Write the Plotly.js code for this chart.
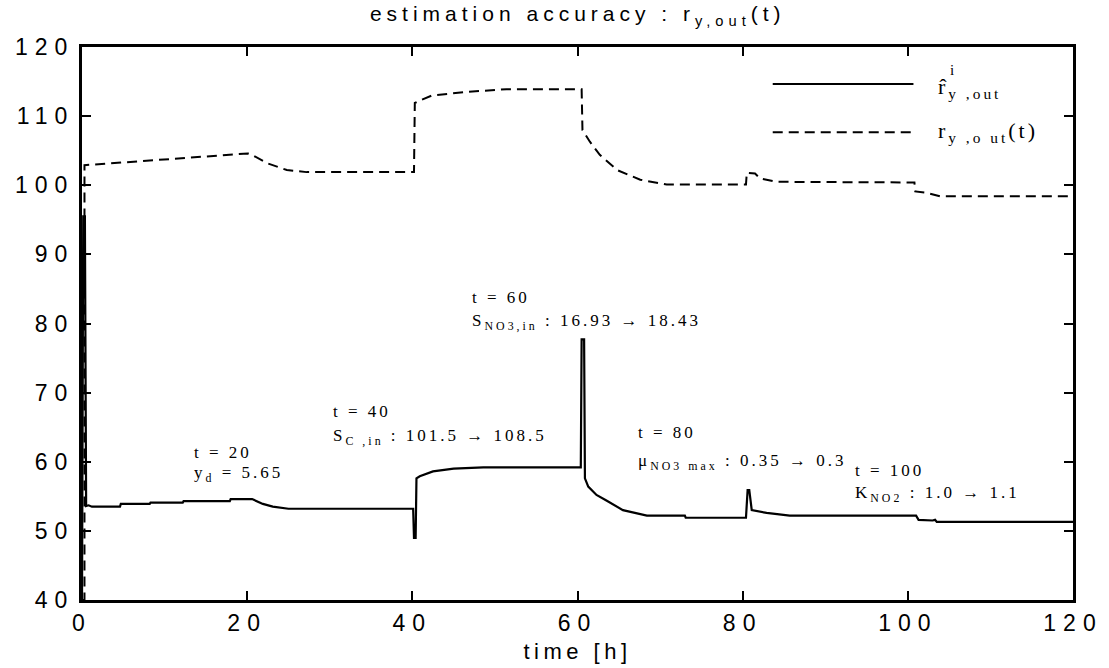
<!DOCTYPE html>
<html>
<head>
<meta charset="utf-8">
<script src="https://cdn.plot.ly/plotly-3.0.1.min.js"></script>
<style>
  html, body { margin: 0; padding: 0; background: #fff; }
  #chart { width: 1109px; height: 668px; }
  .xtick text, .ytick text { letter-spacing: 7px; }
  .gtitle { letter-spacing: 5px; }
  .g-xtitle text { letter-spacing: 4.5px; }
  .annotation-text { letter-spacing: 3px; }
</style>
</head>
<body>
<div id="chart"></div>
<script>
// estimated r-hat (solid)
const tEst = [0, 0.15, 0.35, 0.5, 0.8, 1.2, 4.6, 4.7, 8.2, 8.3, 12.2, 12.3, 17.9, 18.0, 20.6, 21.9, 23.1, 25.0,
  40.1, 40.2, 40.4, 40.5, 40.9, 42.5, 45.0, 48.6, 60.4, 60.5, 60.8, 60.9, 61.3, 62.3, 63.5, 65.5, 68.4, 73.0, 73.1,
  80.4, 80.6, 80.8, 81.1, 82.9, 85.7, 101.0, 101.3, 103.0, 103.3, 103.5, 120];
const rEst = [40, 95.5, 95.5, 53.6, 53.7, 53.5, 53.5, 53.9, 53.9, 54.1, 54.1, 54.3, 54.3, 54.6, 54.6, 53.9, 53.5, 53.2,
  53.2, 49.0, 49.0, 57.6, 57.9, 58.6, 59.0, 59.2, 59.2, 77.7, 77.7, 57.6, 56.4, 55.2, 54.4, 53.0, 52.2, 52.2, 51.9,
  51.9, 55.9, 55.9, 53.0, 52.6, 52.2, 52.2, 51.6, 51.5, 51.6, 51.3, 51.3];
// true r (dashed)
const tTrue = [0, 0.3, 0.3, 20.1, 20.6, 22.4, 24.8, 27.2, 40.2, 40.3, 41.0, 42.4, 46.6, 51.4, 60.5, 60.6, 61.5, 62.7,
  64.8, 67.6, 70.8, 80.4, 80.5, 81.5, 82.1, 84.1, 100.8, 100.9, 102.3, 103.9, 120];
const rTrue = [40, 40, 102.9, 104.6, 104.4, 103.2, 102.2, 101.9, 101.9, 111.9, 112.3, 113.0, 113.5, 113.9, 113.9, 108.0, 106.3, 104.4,
  102.2, 100.8, 100.1, 100.1, 101.8, 101.7, 101.0, 100.5, 100.4, 99.1, 98.9, 98.4, 98.4];

const xTicks = [0, 20, 40, 60, 80, 100, 120];
const yTicks = [40, 50, 60, 70, 80, 90, 100, 110, 120];

const notes = [
  {x: 13.3, y: 61.4, text: 't = 20'},
  {x: 13.3, y: 58.2, text: 'y<sub>d</sub> = 5.65'},
  {x: 30.1, y: 67.2, text: 't = 40'},
  {x: 30.1, y: 63.6, text: 'S<sub>C ,in</sub> : 101.5 → 108.5'},
  {x: 47.0, y: 83.8, text: 't = 60'},
  {x: 47.0, y: 80.2, text: 'S<sub>NO3,in</sub> : 16.93 → 18.43'},
  {x: 67.1, y: 64.3, text: 't = 80'},
  {x: 67.1, y: 60.0, text: 'μ<sub>NO3 max</sub> : 0.35 → 0.3'},
  {x: 93.3, y: 58.8, text: 't = 100'},
  {x: 93.3, y: 55.3, text: 'K<sub>NO2</sub> : 1.0 → 1.1'}
];

const serif = 'Liberation Serif, Times New Roman, serif';
const sans = 'Liberation Sans, Arial, sans-serif';

const traces = [
  {x: tEst, y: rEst, type: 'scatter', mode: 'lines', line: {color: '#000', width: 2.2}, showlegend: false, hoverinfo: 'skip'},
  {x: tTrue, y: rTrue, type: 'scatter', mode: 'lines', line: {color: '#000', width: 2, dash: '10px,6px'}, showlegend: false, hoverinfo: 'skip'}
];

const annotations = notes.map(n => ({
  x: n.x, y: n.y, xref: 'x', yref: 'y', text: n.text, showarrow: false,
  xanchor: 'left', yanchor: 'middle', font: {family: serif, size: 17, color: '#000'}
}));
// legend labels
annotations.push({xref: 'paper', yref: 'paper', x: 0.862, y: 0.925, xanchor: 'left', yanchor: 'middle',
  text: 'r̂<sub>y ,out</sub>', showarrow: false, font: {family: serif, size: 22, color: '#000'}});
annotations.push({xref: 'paper', yref: 'paper', x: 0.874, y: 0.958, xanchor: 'left', yanchor: 'middle',
  text: 'i', showarrow: false, font: {family: serif, size: 15, color: '#000'}});
annotations.push({xref: 'paper', yref: 'paper', x: 0.862, y: 0.846, xanchor: 'left', yanchor: 'middle',
  text: 'r<sub>y ,o ut</sub>(t)', showarrow: false, font: {family: serif, size: 22, color: '#000'}});

const shapes = [
  {type: 'line', xref: 'paper', yref: 'paper', x0: 0.697, x1: 0.839, y0: 0.933, y1: 0.933, line: {color: '#000', width: 2}},
  {type: 'line', xref: 'paper', yref: 'paper', x0: 0.697, x1: 0.839, y0: 0.846, y1: 0.846, line: {color: '#000', width: 2, dash: '10px,6px'}}
];

const axisCommon = {
  showgrid: false, zeroline: false, showline: true, linecolor: '#000', linewidth: 3,
  mirror: 'ticks', ticks: 'inside', ticklen: 9, tickwidth: 2, tickcolor: '#000',
  tickfont: {family: sans, size: 23, color: '#000'}
};

const layout = {
  width: 1109, height: 668,
  margin: {l: 82, r: 36, t: 47, b: 68},
  paper_bgcolor: '#fff', plot_bgcolor: '#fff',
  title: {text: 'estimation accuracy : r<sub>y,out</sub>(t)', x: 0.521, xanchor: 'center', y: 0.979, yanchor: 'middle',
    font: {family: sans, size: 21, color: '#000'}},
  xaxis: Object.assign({}, axisCommon, {range: [0, 120], tickvals: xTicks, ticktext: xTicks.map(String),
    title: {text: 'time [h]', font: {family: sans, size: 22, color: '#000'}, standoff: 10}}),
  yaxis: Object.assign({}, axisCommon, {range: [40, 120], tickvals: yTicks, ticktext: yTicks.map(String)}),
  annotations: annotations,
  shapes: shapes
};

Plotly.newPlot('chart', traces, layout, {displayModeBar: false, staticPlot: true});
</script>
</body>
</html>
